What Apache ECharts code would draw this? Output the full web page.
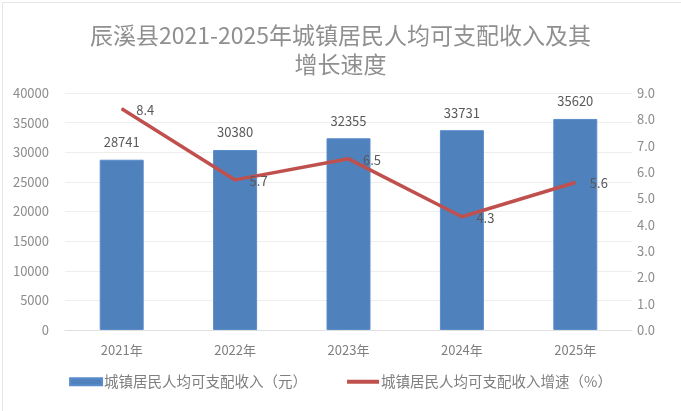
<!DOCTYPE html>
<html>
<head>
<meta charset="utf-8">
<script src="https://cdn.jsdelivr.net/npm/echarts@6/dist/echarts.min.js"></script>
<style>html,body{margin:0;padding:0;background:#fff}#c{width:681px;height:411px}</style>
</head>
<body>
<div id="c"></div>
<script>
const categories = ['2021年', '2022年', '2023年', '2024年', '2025年'];
const incomeValues = [28741, 30380, 32355, 33731, 35620];
const growthValues = [8.4, 5.7, 6.5, 4.3, 5.6];
const barName = '城镇居民人均可支配收入（元）';
const lineName = '城镇居民人均可支配收入增速（%）';
const titleText = '辰溪县2021-2025年城镇居民人均可支配收入及其\n增长速度';

const FONT = '"Microsoft YaHei", "Noto Sans CJK SC", sans-serif';
const chart = echarts.init(document.getElementById('c'));
chart.setOption({
  backgroundColor: '#fff',
  textStyle: { fontFamily: FONT },
  graphic: [{
    type: 'rect', left: 0, top: 0,
    shape: { x: 0.5, y: 0.5, width: 680, height: 410 },
    style: { fill: 'none', stroke: '#e6e6e6', lineWidth: 1 }, silent: true
  }],
  title: {
    text: titleText,
    left: 'center', top: 16,
    textStyle: { fontSize: 23, fontWeight: 'normal', color: '#8f8f8f', lineHeight: 29, fontFamily: FONT }
  },
  legend: {
    bottom: 17, left: 'center', itemGap: 40,
    itemWidth: 32, itemHeight: 7,
    textStyle: { fontSize: 14.5, color: '#7f7f7f', fontFamily: FONT, padding: [0, 0, 0, -3] },
    data: [
      { name: barName, icon: 'rect' },
      { name: lineName, icon: 'path://M0,0H32V4H0Z', itemStyle: { color: '#C0504D' } }
    ]
  },
  grid: { left: 65, right: 49, top: 93, bottom: 81 },
  xAxis: {
    type: 'category', data: categories,
    axisLine: { show: true, lineStyle: { color: '#e0e0e0' } },
    axisTick: { show: false },
    axisLabel: { fontSize: 13, color: '#7f7f7f', margin: 14, fontFamily: FONT }
  },
  yAxis: [{
    type: 'value', min: 0, max: 40000, interval: 5000,
    axisLine: { show: false }, axisTick: { show: false },
    axisLabel: { fontSize: 13, color: '#8c8c8c', margin: 16, fontFamily: FONT,
      formatter: v => String(v) },
    splitLine: { lineStyle: { color: '#eeeeee' } }
  }, {
    type: 'value', min: 0, max: 9, interval: 1,
    axisLine: { show: false }, axisTick: { show: false },
    axisLabel: { fontSize: 13, color: '#8c8c8c', margin: 5, fontFamily: FONT,
      formatter: v => v.toFixed(1) },
    splitLine: { show: false }
  }],
  series: [{
    name: barName, type: 'bar', data: incomeValues, barWidth: 44,
    itemStyle: { color: '#4F81BD', borderColor: '#5a8ccb', borderWidth: 1 },
    label: { show: true, position: 'top', distance: 11, fontSize: 13, color: '#595959', fontFamily: FONT }
  }, {
    name: lineName, type: 'line', yAxisIndex: 1, data: growthValues,
    symbol: 'circle', symbolSize: 1, showSymbol: true,
    lineStyle: { color: '#C0504D', width: 3.5 },
    itemStyle: { color: '#C0504D' },
    label: { show: true, position: 'right', distance: 14, offset: [0, 1], fontSize: 13, color: '#595959', fontFamily: FONT,
      formatter: p => p.value.toFixed(1) },
    z: 5
  }]
});
</script>
</body>
</html>
